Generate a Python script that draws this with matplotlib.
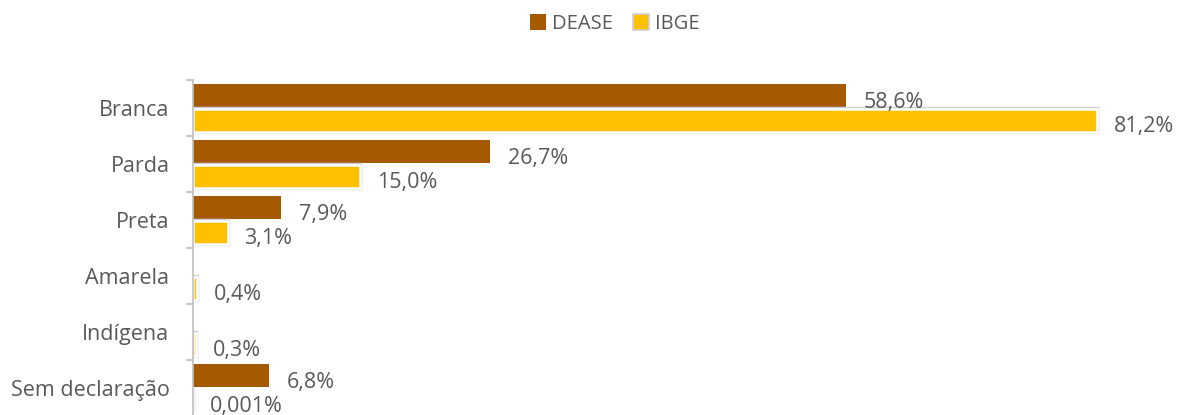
import matplotlib
matplotlib.use("Agg")
import matplotlib.pyplot as plt
from matplotlib.patches import Patch
import numpy as np

categories = ["Branca", "Parda", "Preta", "Amarela", "Indígena", "Sem declaração"]
dease = [58.6, 26.7, 7.9, 0.0, 0.0, 6.8]
ibge = [81.2, 15.0, 3.1, 0.4, 0.3, 0.001]
series_names = ["DEASE", "IBGE"]

brown = "#A65A00"
yellow = "#FFC000"
grey_txt = "#595959"

plt.rcParams["font.family"] = ["Open Sans", "DejaVu Sans"]


def fmt(v):
    if v < 0.01:
        return f"{v:.3f}".replace(".", ",") + "%"
    return f"{v:.1f}".replace(".", ",") + "%"


fig = plt.figure(figsize=(11.89, 4.15), dpi=100)
ax = fig.add_axes([193 / 1189, -1 / 415, 980 / 1189, 336 / 415])

y = np.arange(len(categories))
h = 0.41
off = 0.215

ax.barh(y - off, dease, height=h, color=brown, edgecolor="none")
# IBGE: yellow with white border and thin grey outline
ax.barh(y + off, ibge, height=h, color=yellow, edgecolor="#d0d0d0", linewidth=3.2)
ax.barh(y + off, ibge, height=h, color=yellow, edgecolor="white", linewidth=1.8)

for yi, v in zip(y, dease):
    if v > 0:
        ax.annotate(fmt(v), (v, yi - off), xytext=(13, -4.5), textcoords="offset points",
                    ha="left", va="center", fontsize=15.5, color=grey_txt)
for yi, v in zip(y, ibge):
    ax.annotate(fmt(v), (v, yi + off), xytext=(12, -4.5), textcoords="offset points",
                ha="left", va="center", fontsize=15.5, color=grey_txt)

ax.set_xlim(0, 88)
ax.set_ylim(len(categories) - 0.5, -0.5)
ax.set_xticks([])
ax.set_yticks(y)
ax.set_yticklabels(categories, fontsize=15.5, color=grey_txt)
ax.tick_params(axis="y", which="major", length=0, pad=17)
ax.set_yticks(np.arange(len(categories) + 1) - 0.5, minor=True)
ax.tick_params(axis="y", which="minor", length=5, color="#bfbfbf", width=1.2)
for s in ["top", "right", "bottom"]:
    ax.spines[s].set_visible(False)
ax.spines["left"].set_color("#bfbfbf")
ax.spines["left"].set_linewidth(1.2)

handles = [Patch(facecolor=brown, edgecolor="none"),
           Patch(facecolor=yellow, edgecolor="#d0d0d0", linewidth=1.2)]
fig.legend(handles, series_names, loc="center", bbox_to_anchor=(615 / 1189, 1 - 24 / 415),
           ncol=2, frameon=False, fontsize=14.5, handlelength=0.8, handleheight=0.8,
           handletextpad=0.3, columnspacing=1.0, labelcolor=grey_txt)

fig.savefig("out.png", dpi=100)
